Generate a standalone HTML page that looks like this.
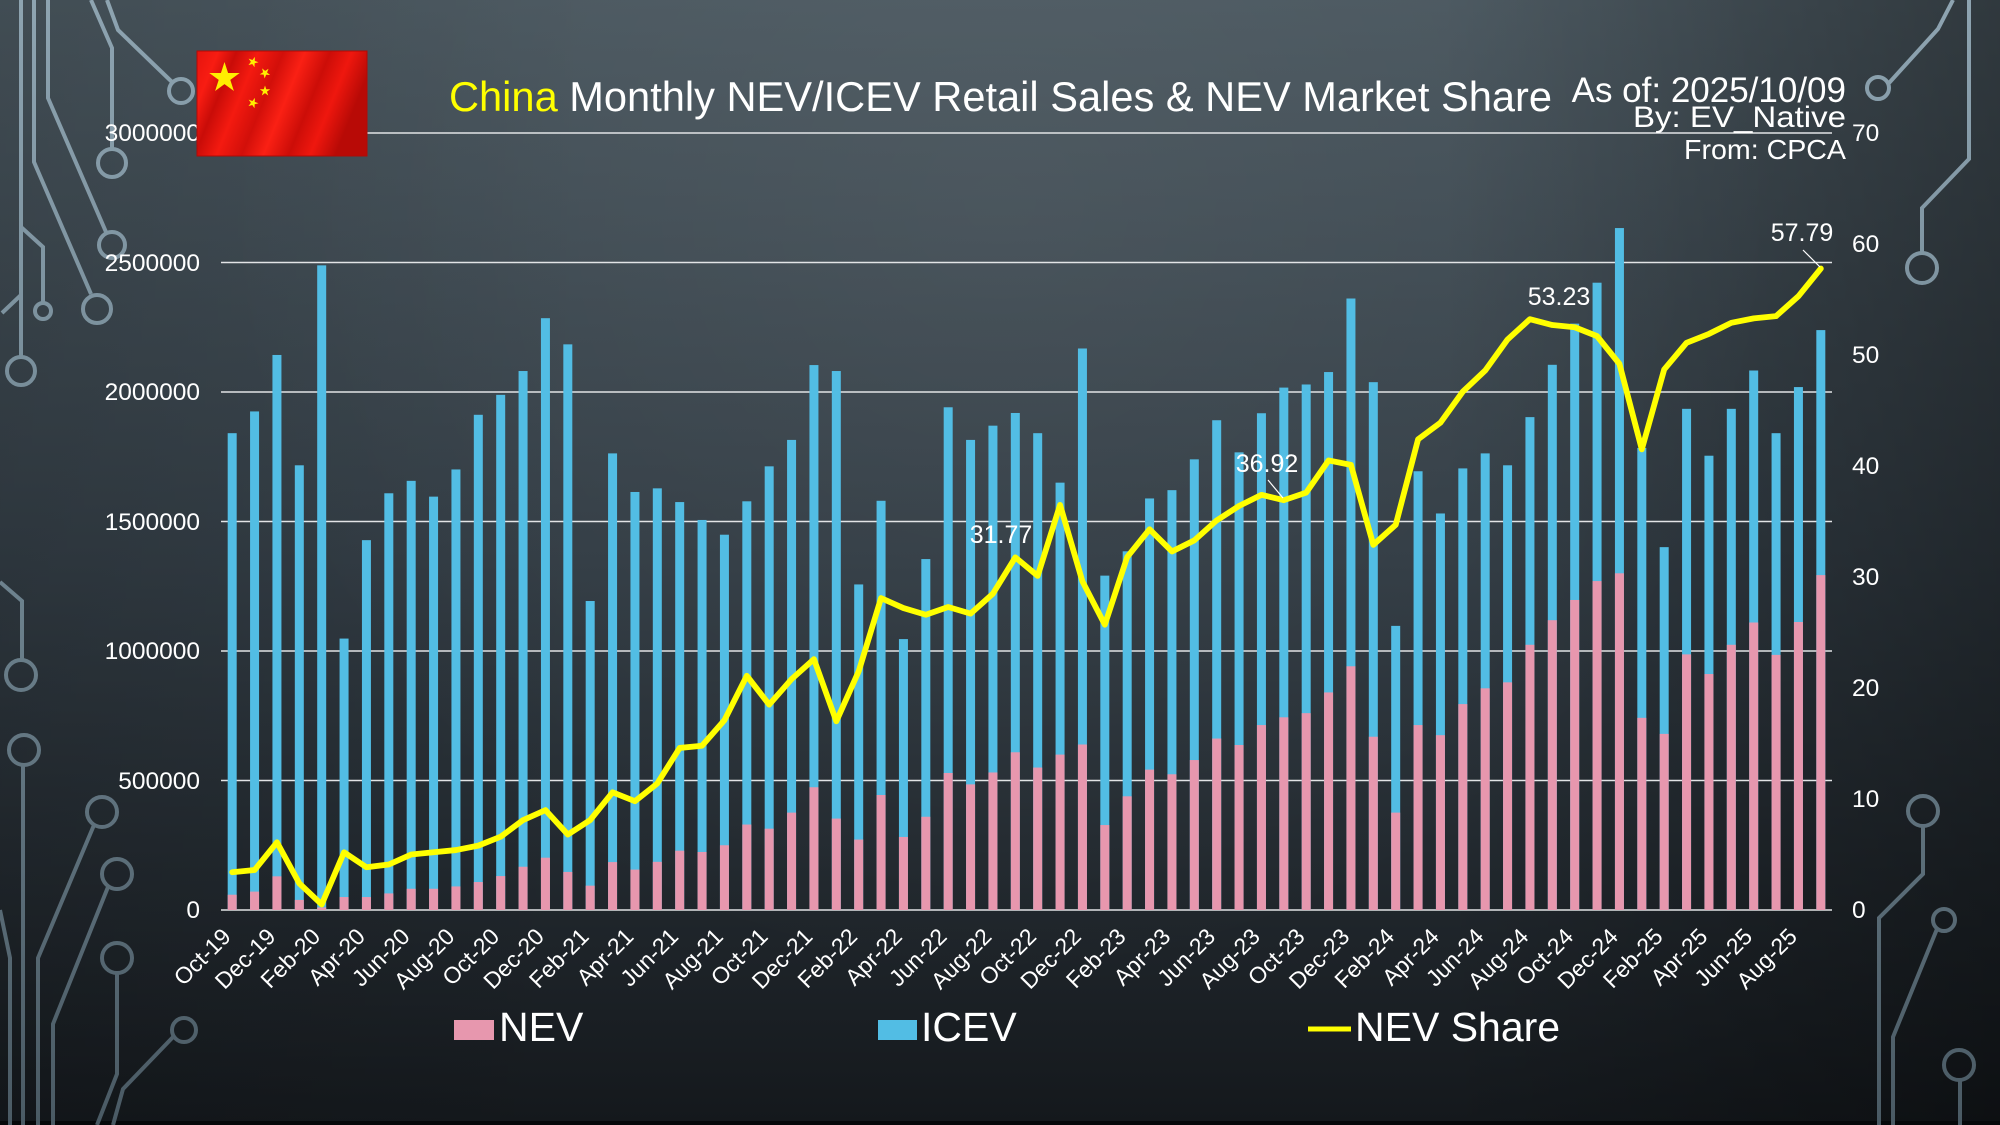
<!DOCTYPE html>
<html><head><meta charset="utf-8"><style>
html,body{margin:0;padding:0;background:#1b2026;}
svg{display:block;font-family:"Liberation Sans",Arial,sans-serif;}
</style></head><body>
<svg width="2000" height="1125" viewBox="0 0 2000 1125" xmlns="http://www.w3.org/2000/svg">
<defs>
<linearGradient id="bgv" x1="0" y1="0" x2="0" y2="1">
<stop offset="0" stop-color="#4a575f"/><stop offset="0.5" stop-color="#323c44"/><stop offset="1" stop-color="#14181c"/>
</linearGradient>
<linearGradient id="bgh" x1="0" y1="0" x2="1" y2="0">
<stop offset="0" stop-color="#000" stop-opacity="0.12"/><stop offset="0.3" stop-color="#000" stop-opacity="0"/><stop offset="0.72" stop-color="#000" stop-opacity="0"/><stop offset="1" stop-color="#000" stop-opacity="0.35"/>
</linearGradient>
<radialGradient id="bgr" cx="1000" cy="200" r="800" gradientUnits="userSpaceOnUse">
<stop offset="0" stop-color="#fff" stop-opacity="0.05"/><stop offset="1" stop-color="#fff" stop-opacity="0"/>
</radialGradient>
<linearGradient id="dec" x1="0" y1="0" x2="0" y2="1125" gradientUnits="userSpaceOnUse">
<stop offset="0" stop-color="#8ea4b1"/><stop offset="0.5" stop-color="#6f8490"/><stop offset="1" stop-color="#4a5a64"/>
</linearGradient>
<linearGradient id="flag" x1="0" y1="0" x2="1" y2="0.25">
<stop offset="0" stop-color="#e5140e"/><stop offset="0.12" stop-color="#f81c12"/><stop offset="0.22" stop-color="#c90c08"/><stop offset="0.34" stop-color="#f41a10"/><stop offset="0.48" stop-color="#d20f0a"/><stop offset="0.6" stop-color="#fa2014"/><stop offset="0.74" stop-color="#cc0d08"/><stop offset="0.86" stop-color="#ef170e"/><stop offset="1" stop-color="#b80a06"/>
</linearGradient>
</defs>
<rect width="2000" height="1125" fill="url(#bgv)"/>
<rect width="2000" height="1125" fill="url(#bgh)"/>
<rect width="2000" height="1125" fill="url(#bgr)"/>
<rect y="1121" width="2000" height="4" fill="#06080a"/>

<!-- circuit decorations -->
<g fill="none" stroke="url(#dec)" stroke-width="4">
<path d="M21,0 V356 M21,227 L43,247 V303 M21,295 L2,313"/>
<circle cx="21" cy="371" r="14"/><circle cx="43" cy="311" r="8"/>
<path d="M34,0 V162 L91,294"/><circle cx="97" cy="309" r="14"/>
<path d="M48,0 V98 L106,232"/><circle cx="112" cy="245" r="13"/>
<path d="M91,0 L112,48 V149"/><circle cx="112" cy="163" r="14"/>
<path d="M107,0 L118,30 L172,82"/><circle cx="181" cy="91" r="12"/>
<path d="M0,582 L22,601 V660"/><circle cx="21" cy="675" r="15"/>
<circle cx="24" cy="750" r="15"/><path d="M23,765 V1125"/>
<circle cx="102" cy="812" r="15"/><path d="M94,825 L38,958 V1125"/>
<circle cx="117" cy="874" r="15"/><path d="M108,887 L53,1024 V1125"/>
<circle cx="117" cy="958" r="15"/><path d="M117,973 V1074 L97,1125"/>
<circle cx="184" cy="1030" r="12"/><path d="M174,1036 L123,1089 L113,1125"/>
<path d="M0,910 L10,958 V1125"/>
<circle cx="1878" cy="88" r="11"/><path d="M1889,83 L1938,29 L1953,0"/>
<path d="M1969,0 V159 L1922,208 V253"/><circle cx="1922" cy="268" r="15"/>
<circle cx="1923" cy="811" r="15"/><path d="M1923,826 V874 L1879,918 V1125"/>
<circle cx="1944" cy="920" r="11"/><path d="M1937,929 L1893,1037 V1125"/>
<circle cx="1959" cy="1065" r="15"/><path d="M1960,1080 V1125"/>
</g>

<!-- gridlines -->
<g stroke="#e2e4e6" stroke-width="1.5">
<line x1="221" y1="133" x2="1832" y2="133"/>
<line x1="221" y1="262.5" x2="1832" y2="262.5"/>
<line x1="221" y1="392" x2="1832" y2="392"/>
<line x1="221" y1="521.5" x2="1832" y2="521.5"/>
<line x1="221" y1="651" x2="1832" y2="651"/>
<line x1="221" y1="780.5" x2="1832" y2="780.5"/>
<line x1="221" y1="910" x2="1832" y2="910"/>
</g>

<!-- left axis labels -->
<g fill="#ffffff" font-size="24.5" text-anchor="end">
<text x="200" y="141">3000000</text>
<text x="200" y="271">2500000</text>
<text x="200" y="400">2000000</text>
<text x="200" y="530">1500000</text>
<text x="200" y="659">1000000</text>
<text x="200" y="789">500000</text>
<text x="200" y="918">0</text>
</g>
<!-- right axis labels -->
<g fill="#ffffff" font-size="24.5">
<text x="1852" y="141">70</text>
<text x="1852" y="252">60</text>
<text x="1852" y="363">50</text>
<text x="1852" y="474">40</text>
<text x="1852" y="585">30</text>
<text x="1852" y="696">20</text>
<text x="1852" y="807">10</text>
<text x="1852" y="918">0</text>
</g>

<!-- ICEV (total) bars -->
<g transform="translate(227.69,910) scale(22.375,-0.259)" fill="#52bde4">
<rect x="0" width="0.4022" height="1841"/><rect x="1" width="0.4022" height="1925"/><rect x="2" width="0.4022" height="2143"/><rect x="3" width="0.4022" height="1717"/><rect x="4" width="0.4022" height="2489"/><rect x="5" width="0.4022" height="1048"/><rect x="6" width="0.4022" height="1428"/><rect x="7" width="0.4022" height="1609"/><rect x="8" width="0.4022" height="1657"/><rect x="9" width="0.4022" height="1596"/>
<rect x="10" width="0.4022" height="1701"/><rect x="11" width="0.4022" height="1912"/><rect x="12" width="0.4022" height="1989"/><rect x="13" width="0.4022" height="2081"/><rect x="14" width="0.4022" height="2285"/><rect x="15" width="0.4022" height="2184"/><rect x="16" width="0.4022" height="1193"/><rect x="17" width="0.4022" height="1763"/><rect x="18" width="0.4022" height="1614"/><rect x="19" width="0.4022" height="1628"/>
<rect x="20" width="0.4022" height="1575"/><rect x="21" width="0.4022" height="1506"/><rect x="22" width="0.4022" height="1449"/><rect x="23" width="0.4022" height="1578"/><rect x="24" width="0.4022" height="1713"/><rect x="25" width="0.4022" height="1815"/><rect x="26" width="0.4022" height="2104"/><rect x="27" width="0.4022" height="2081"/><rect x="28" width="0.4022" height="1257"/><rect x="29" width="0.4022" height="1580"/>
<rect x="30" width="0.4022" height="1046"/><rect x="31" width="0.4022" height="1355"/><rect x="32" width="0.4022" height="1941"/><rect x="33" width="0.4022" height="1815"/><rect x="34" width="0.4022" height="1870"/><rect x="35" width="0.4022" height="1919"/><rect x="36" width="0.4022" height="1841"/><rect x="37" width="0.4022" height="1650"/><rect x="38" width="0.4022" height="2168"/><rect x="39" width="0.4022" height="1291"/>
<rect x="40" width="0.4022" height="1385"/><rect x="41" width="0.4022" height="1589"/><rect x="42" width="0.4022" height="1621"/><rect x="43" width="0.4022" height="1740"/><rect x="44" width="0.4022" height="1891"/><rect x="45" width="0.4022" height="1767"/><rect x="46" width="0.4022" height="1918"/><rect x="47" width="0.4022" height="2017"/><rect x="48" width="0.4022" height="2029"/><rect x="49" width="0.4022" height="2077"/>
<rect x="50" width="0.4022" height="2361"/><rect x="51" width="0.4022" height="2038"/><rect x="52" width="0.4022" height="1097"/><rect x="53" width="0.4022" height="1694"/><rect x="54" width="0.4022" height="1531"/><rect x="55" width="0.4022" height="1705"/><rect x="56" width="0.4022" height="1763"/><rect x="57" width="0.4022" height="1717"/><rect x="58" width="0.4022" height="1903"/><rect x="59" width="0.4022" height="2105"/>
<rect x="60" width="0.4022" height="2264"/><rect x="61" width="0.4022" height="2422"/><rect x="62" width="0.4022" height="2633"/><rect x="63" width="0.4022" height="1784"/><rect x="64" width="0.4022" height="1401"/><rect x="65" width="0.4022" height="1935"/><rect x="66" width="0.4022" height="1754"/><rect x="67" width="0.4022" height="1935"/><rect x="68" width="0.4022" height="2083"/><rect x="69" width="0.4022" height="1841"/>
<rect x="70" width="0.4022" height="2019"/><rect x="71" width="0.4022" height="2239"/>
</g>
<!-- NEV bars -->
<g transform="translate(227.69,910) scale(22.375,-0.259)" fill="#e797ae">
<rect x="0" width="0.4022" height="59"/><rect x="1" width="0.4022" height="71"/><rect x="2" width="0.4022" height="130"/><rect x="3" width="0.4022" height="39"/><rect x="4" width="0.4022" height="10"/><rect x="5" width="0.4022" height="50"/><rect x="6" width="0.4022" height="50"/><rect x="7" width="0.4022" height="64"/><rect x="8" width="0.4022" height="82"/><rect x="9" width="0.4022" height="82"/>
<rect x="10" width="0.4022" height="91"/><rect x="11" width="0.4022" height="108"/><rect x="12" width="0.4022" height="131"/><rect x="13" width="0.4022" height="167"/><rect x="14" width="0.4022" height="202"/><rect x="15" width="0.4022" height="147"/><rect x="16" width="0.4022" height="94"/><rect x="17" width="0.4022" height="185"/><rect x="18" width="0.4022" height="156"/><rect x="19" width="0.4022" height="186"/>
<rect x="20" width="0.4022" height="229"/><rect x="21" width="0.4022" height="224"/><rect x="22" width="0.4022" height="250"/><rect x="23" width="0.4022" height="330"/><rect x="24" width="0.4022" height="314"/><rect x="25" width="0.4022" height="376"/><rect x="26" width="0.4022" height="474"/><rect x="27" width="0.4022" height="353"/><rect x="28" width="0.4022" height="272"/><rect x="29" width="0.4022" height="444"/>
<rect x="30" width="0.4022" height="282"/><rect x="31" width="0.4022" height="360"/><rect x="32" width="0.4022" height="529"/><rect x="33" width="0.4022" height="485"/><rect x="34" width="0.4022" height="531"/><rect x="35" width="0.4022" height="609"/><rect x="36" width="0.4022" height="550"/><rect x="37" width="0.4022" height="600"/><rect x="38" width="0.4022" height="639"/><rect x="39" width="0.4022" height="328"/>
<rect x="40" width="0.4022" height="439"/><rect x="41" width="0.4022" height="542"/><rect x="42" width="0.4022" height="524"/><rect x="43" width="0.4022" height="579"/><rect x="44" width="0.4022" height="662"/><rect x="45" width="0.4022" height="637"/><rect x="46" width="0.4022" height="714"/><rect x="47" width="0.4022" height="744"/><rect x="48" width="0.4022" height="760"/><rect x="49" width="0.4022" height="840"/>
<rect x="50" width="0.4022" height="941"/><rect x="51" width="0.4022" height="669"/><rect x="52" width="0.4022" height="376"/><rect x="53" width="0.4022" height="714"/><rect x="54" width="0.4022" height="675"/><rect x="55" width="0.4022" height="795"/><rect x="56" width="0.4022" height="856"/><rect x="57" width="0.4022" height="879"/><rect x="58" width="0.4022" height="1024"/><rect x="59" width="0.4022" height="1119"/>
<rect x="60" width="0.4022" height="1197"/><rect x="61" width="0.4022" height="1270"/><rect x="62" width="0.4022" height="1300"/><rect x="63" width="0.4022" height="742"/><rect x="64" width="0.4022" height="680"/><rect x="65" width="0.4022" height="987"/><rect x="66" width="0.4022" height="911"/><rect x="67" width="0.4022" height="1024"/><rect x="68" width="0.4022" height="1110"/><rect x="69" width="0.4022" height="985"/>
<rect x="70" width="0.4022" height="1112"/><rect x="71" width="0.4022" height="1293"/>
</g>

<!-- NEV share line -->
<g transform="translate(232.19,910) scale(22.375,-11.1)">
<polyline fill="none" stroke="#ffff00" stroke-width="5.8" stroke-linejoin="round" stroke-linecap="round" vector-effect="non-scaling-stroke"
points="0,3.4 1,3.6 2,6.1 3,2.4 4,0.5 5,5.2 6,3.85 7,4.1 8,5.0 9,5.2 10,5.4 11,5.8 12,6.6 13,8.1 14,9.0 15,6.8 16,8.1 17,10.6 18,9.8 19,11.4 20,14.6 21,14.8 22,17.1 23,21.1 24,18.5 25,20.8 26,22.6 27,17.0 28,21.5 29,28.1 30,27.2 31,26.6 32,27.3 33,26.7 34,28.5 35,31.77 36,30.1 37,36.5 38,29.6 39,25.7 40,31.8 41,34.3 42,32.3 43,33.3 44,35.1 45,36.4 46,37.4 47,36.92 48,37.6 49,40.5 50,40.1 51,32.9 52,34.7 53,42.4 54,43.9 55,46.7 56,48.6 57,51.4 58,53.23 59,52.7 60,52.5 61,51.7 62,49.2 63,41.5 64,48.7 65,51.1 66,51.9 67,52.9 68,53.3 69,53.5 70,55.3 71,57.79"/>
</g>

<!-- data labels -->
<g fill="#ffffff" font-size="25" text-anchor="middle">
<text x="1001" y="543">31.77</text>
<text x="1267" y="472">36.92</text>
<text x="1559" y="305">53.23</text>
<text x="1802" y="241">57.79</text>
</g>
<g stroke="#ffffff" stroke-width="1.2">
<line x1="1268" y1="480" x2="1283" y2="498"/>
<line x1="1803" y1="250" x2="1820" y2="267"/>
</g>

<!-- x-axis labels -->
<g fill="#ffffff" font-size="23" text-anchor="end">
<text transform="translate(232.2,938) rotate(-45)">Oct-19</text>
<text transform="translate(276.9,938) rotate(-45)">Dec-19</text>
<text transform="translate(321.7,938) rotate(-45)">Feb-20</text>
<text transform="translate(366.4,938) rotate(-45)">Apr-20</text>
<text transform="translate(411.2,938) rotate(-45)">Jun-20</text>
<text transform="translate(455.9,938) rotate(-45)">Aug-20</text>
<text transform="translate(500.7,938) rotate(-45)">Oct-20</text>
<text transform="translate(545.4,938) rotate(-45)">Dec-20</text>
<text transform="translate(590.2,938) rotate(-45)">Feb-21</text>
<text transform="translate(634.9,938) rotate(-45)">Apr-21</text>
<text transform="translate(679.7,938) rotate(-45)">Jun-21</text>
<text transform="translate(724.4,938) rotate(-45)">Aug-21</text>
<text transform="translate(769.2,938) rotate(-45)">Oct-21</text>
<text transform="translate(813.9,938) rotate(-45)">Dec-21</text>
<text transform="translate(858.7,938) rotate(-45)">Feb-22</text>
<text transform="translate(903.4,938) rotate(-45)">Apr-22</text>
<text transform="translate(948.2,938) rotate(-45)">Jun-22</text>
<text transform="translate(992.9,938) rotate(-45)">Aug-22</text>
<text transform="translate(1037.7,938) rotate(-45)">Oct-22</text>
<text transform="translate(1082.4,938) rotate(-45)">Dec-22</text>
<text transform="translate(1127.2,938) rotate(-45)">Feb-23</text>
<text transform="translate(1171.9,938) rotate(-45)">Apr-23</text>
<text transform="translate(1216.7,938) rotate(-45)">Jun-23</text>
<text transform="translate(1261.4,938) rotate(-45)">Aug-23</text>
<text transform="translate(1306.2,938) rotate(-45)">Oct-23</text>
<text transform="translate(1350.9,938) rotate(-45)">Dec-23</text>
<text transform="translate(1395.7,938) rotate(-45)">Feb-24</text>
<text transform="translate(1440.4,938) rotate(-45)">Apr-24</text>
<text transform="translate(1485.2,938) rotate(-45)">Jun-24</text>
<text transform="translate(1529.9,938) rotate(-45)">Aug-24</text>
<text transform="translate(1574.7,938) rotate(-45)">Oct-24</text>
<text transform="translate(1619.4,938) rotate(-45)">Dec-24</text>
<text transform="translate(1664.2,938) rotate(-45)">Feb-25</text>
<text transform="translate(1708.9,938) rotate(-45)">Apr-25</text>
<text transform="translate(1753.7,938) rotate(-45)">Jun-25</text>
<text transform="translate(1798.4,938) rotate(-45)">Aug-25</text>
</g>

<!-- legend -->
<rect x="454" y="1020" width="40" height="20" fill="#e797ae"/>
<text x="499" y="1041" fill="#ffffff" font-size="41">NEV</text>
<rect x="878" y="1020" width="39" height="20" fill="#52bde4"/>
<text x="921" y="1041" fill="#ffffff" font-size="41">ICEV</text>
<line x1="1308" y1="1029" x2="1351" y2="1029" stroke="#ffff00" stroke-width="5"/>
<text x="1355" y="1041" fill="#ffffff" font-size="41">NEV Share</text>

<!-- title -->
<text x="449" y="111" font-size="42" fill="#ffffff" textLength="1103" lengthAdjust="spacingAndGlyphs"><tspan fill="#ffff00">China</tspan> Monthly NEV/ICEV Retail Sales &amp; NEV Market Share</text>
<text x="1846" y="102" font-size="35" fill="#ffffff" text-anchor="end">As of: 2025/10/09</text>
<text x="1846" y="127" font-size="30" fill="#ffffff" text-anchor="end" textLength="213" lengthAdjust="spacingAndGlyphs">By: EV_Native</text>
<text x="1846" y="159" font-size="28" fill="#ffffff" text-anchor="end" textLength="162" lengthAdjust="spacingAndGlyphs">From: CPCA</text>

<!-- flag -->
<rect x="197" y="51" width="170" height="105" fill="url(#flag)"/>
<rect x="197" y="51" width="170" height="105" fill="none" stroke="#b00a06" stroke-width="1"/>
<g fill="#ffee00">
<polygon transform="translate(224.5,78) scale(16)" points="0,-1 0.2245,-0.309 0.951,-0.309 0.363,0.118 0.588,0.809 0,0.382 -0.588,0.809 -0.363,0.118 -0.951,-0.309 -0.2245,-0.309"/>
<polygon transform="translate(253,62) rotate(20) scale(5.5)" points="0,-1 0.2245,-0.309 0.951,-0.309 0.363,0.118 0.588,0.809 0,0.382 -0.588,0.809 -0.363,0.118 -0.951,-0.309 -0.2245,-0.309"/>
<polygon transform="translate(265,73) rotate(40) scale(5.5)" points="0,-1 0.2245,-0.309 0.951,-0.309 0.363,0.118 0.588,0.809 0,0.382 -0.588,0.809 -0.363,0.118 -0.951,-0.309 -0.2245,-0.309"/>
<polygon transform="translate(265,91) rotate(0) scale(5.5)" points="0,-1 0.2245,-0.309 0.951,-0.309 0.363,0.118 0.588,0.809 0,0.382 -0.588,0.809 -0.363,0.118 -0.951,-0.309 -0.2245,-0.309"/>
<polygon transform="translate(253,103) rotate(20) scale(5.5)" points="0,-1 0.2245,-0.309 0.951,-0.309 0.363,0.118 0.588,0.809 0,0.382 -0.588,0.809 -0.363,0.118 -0.951,-0.309 -0.2245,-0.309"/>
</g>
</svg>
</body></html>
